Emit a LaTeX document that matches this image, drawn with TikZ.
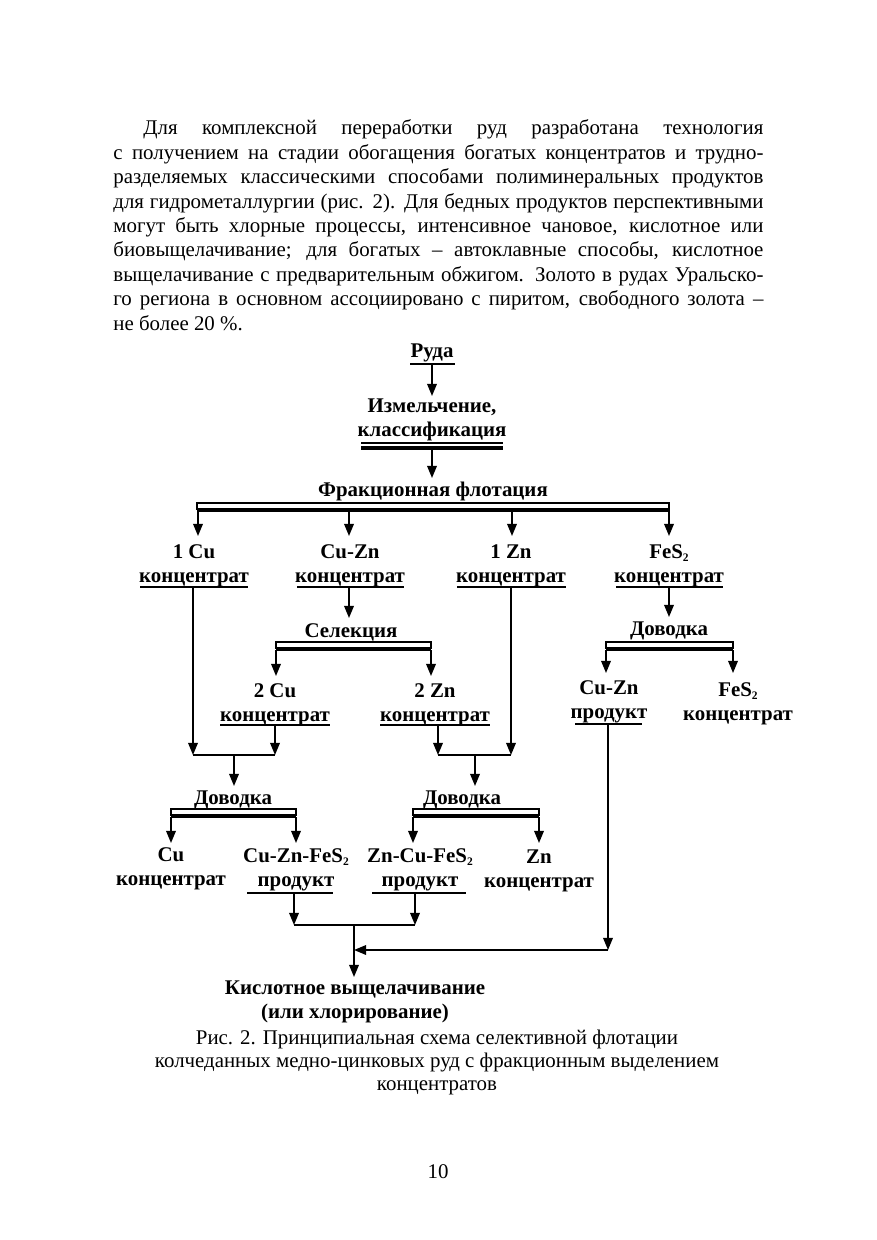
\documentclass[tikz,border=0pt]{standalone}
\usepackage{fontspec}
\setmainfont{Liberation Serif}
\usetikzlibrary{arrows.meta}
\newcommand{\sbt}{\raisebox{-1.6pt}{\fontsize{5.5}{6}\selectfont 2}}
\begin{document}
\begin{tikzpicture}[x=0.47888pt, y=-0.47888pt,
  body/.style={font=\fontsize{10}{11.5}\selectfont, inner sep=0pt, anchor=base west},
  lbl/.style={font=\fontsize{10}{11.5}\selectfont\bfseries, align=center, inner sep=0pt, yshift=-1.2pt},
  captxt/.style={font=\fontsize{10}{11}\selectfont, align=center, inner sep=0pt},
  arr/.style={-{Triangle[length=5.8pt,width=4.6pt]}, line width=0.75pt},
  ln/.style={line width=0.75pt},
  ul/.style={line width=1.1pt},
  thinl/.style={line width=0.55pt},
  thickl/.style={line width=1.6pt}
]
\useasboundingbox (0,0) rectangle (876,1240);

% ---------- paragraph ----------
\newcommand{\fl}{\makebox[311.3pt][s]}
\node[body] (p1) at (143,135.0) {\makebox[296.9pt][s]{Для комплексной переработки руд разработана технология}};
\node[body] (p2) at (113,159.4) {\fl{с~получением на стадии обогащения богатых концентратов и трудно-}};
\node[body] (p3) at (113,183.8) {\fl{разделяемых классическими способами полиминеральных продуктов}};
\node[body] (p4) at (113,208.2) {\fl{для гидрометаллургии (рис. 2). Для бедных продуктов перспективными}};
\node[body] (p5) at (113,232.6) {\fl{могут быть хлорные процессы, интенсивное чановое, кислотное или}};
\node[body] (p6) at (113,257.0) {\fl{биовыщелачивание; для богатых – автоклавные способы, кислотное}};
\node[body] (p7) at (113,281.4) {\fl{выщелачивание с предварительным обжигом. Золото в рудах Уральско-}};
\node[body] (p8) at (113,305.8) {\fl{го региона в основном ассоциировано с пиритом, свободного золота –}};
\node[body] (p9) at (113,330.2) {не более 20 \%.};

% ---------- labels ----------
\node[lbl] (ruda) at (432,350) {Руда};
\node[lbl] (izm) at (432,417) {Измельчение,\\классификация};
\node[lbl] (frak) at (433,489) {Фракционная флотация};
\node[lbl] (cu1) at (194,563) {1 Cu\\концентрат};
\node[lbl] (cuzn) at (350,563) {Cu-Zn\\концентрат};
\node[lbl] (zn1) at (511,563) {1 Zn\\концентрат};
\node[lbl] (fes) at (669,563) {FeS\sbt\\концентрат};
\node[lbl] (sel) at (351,630) {Селекция};
\node[lbl] (cu2) at (275,702) {2 Cu\\концентрат};
\node[lbl] (zn2) at (435,702) {2 Zn\\концентрат};
\node[lbl] (dovR) at (669,628) {Доводка};
\node[lbl] (cuznp) at (609,699) {Cu-Zn\\продукт};
\node[lbl] (fes2) at (738,701) {FeS\sbt\\концентрат};
\node[lbl] (dovL) at (233,797) {Доводка};
\node[lbl] (dovM) at (462,797) {Доводка};
\node[lbl] (cuc) at (171,866) {Cu\\концентрат};
\node[lbl] (cuznfe) at (296,867) {Cu-Zn-FeS\sbt\\продукт};
\node[lbl] (zncufe) at (420,867) {Zn-Cu-FeS\sbt\\продукт};
\node[lbl] (znc) at (539,868) {Zn\\концентрат};
\node[lbl] (kisl) at (355,999) {Кислотное выщелачивание\\(или хлорирование)};

\node[captxt] (caption) at (437,1062) {Рис. 2. Принципиальная схема селективной флотации\\колчеданных медно-цинковых руд с фракционным выделением\\концентратов};
\node[body, anchor=base] (page) at (438,1178) {10};

% ---------- underlines ----------
\draw[ul] (410,364) -- (455,364);
\draw[thinl] (361,443) -- (503,443);
\draw[thickl] (361,448) -- (503,448);
\draw[ul] (140,587) -- (248,587);
\draw[ul] (297,587) -- (404,587);
\draw[ul] (457,587) -- (566,587);
\draw[ul] (616,587) -- (723,587);
\draw[ul] (220,725) -- (330,725);
\draw[ul] (380,725) -- (490,725);
\draw[ul] (575,724) -- (642,724);
\draw[ul] (247,893) -- (333,893);
\draw[ul] (372,893) -- (466,893);

% ---------- operation bars ----------
\newcommand{\opbar}[3]{%
  \draw[thinl] (#1,#3+7) -- (#1,#3) -- (#2,#3) -- (#2,#3+7);
  \draw[thickl] (#1,#3+7) -- (#2,#3+7);}
\opbar{197}{669}{503}
\opbar{276}{431}{642}
\opbar{606}{733}{642}
\opbar{171}{296}{809}
\opbar{413}{539}{809}

% ---------- named points ----------
\coordinate (a1) at (432,364);   \coordinate (a1e) at (432,396);
\coordinate (a2) at (432,449);   \coordinate (a2e) at (432,478);
\foreach \x/\n in {198/f1,349/f2,512/f3,669/f4}{
  \coordinate (\n) at (\x,510); \coordinate (\n e) at (\x,536);}
\coordinate (c1) at (349,587);   \coordinate (c1e) at (349,618);
\coordinate (s1) at (276,650);   \coordinate (s1e) at (276,676);
\coordinate (s2) at (431,650);   \coordinate (s2e) at (431,676);
\coordinate (d1) at (669,587);   \coordinate (d1e) at (669,617);
\coordinate (r1) at (606,650);   \coordinate (r1e) at (606,673);
\coordinate (r2) at (733,650);   \coordinate (r2e) at (733,673);
\coordinate (cu1d) at (193,587); \coordinate (cu1j) at (193,755);
\coordinate (cu2d) at (275,725); \coordinate (cu2j) at (275,755);
\coordinate (zn2d) at (438,725); \coordinate (zn2j) at (438,755);
\coordinate (zn1d) at (511,587); \coordinate (zn1j) at (511,755);
\coordinate (jL) at (234,755);   \coordinate (jLe) at (234,786);
\coordinate (jM) at (475,755);   \coordinate (jMe) at (475,786);
\coordinate (l1) at (171,817);   \coordinate (l1e) at (171,843);
\coordinate (l2) at (296,817);   \coordinate (l2e) at (296,843);
\coordinate (m1) at (413,817);   \coordinate (m1e) at (413,843);
\coordinate (m2) at (539,817);   \coordinate (m2e) at (539,843);
\coordinate (p1d) at (294,893);  \coordinate (p1j) at (294,925);
\coordinate (p2d) at (415,893);  \coordinate (p2j) at (415,925);
\coordinate (jB) at (354,925);   \coordinate (jBe) at (354,977);
\coordinate (q1) at (608,724);   \coordinate (q1j) at (608,950);
\coordinate (qB) at (354,950);

% ---------- connectors ----------
\draw[arr] (a1) -- (a1e);
\draw[arr] (a2) -- (a2e);
\foreach \n in {f1,f2,f3,f4} \draw[arr] (\n) -- (\n e);
\draw[arr] (c1) -- (c1e);
\draw[arr] (s1) -- (s1e);
\draw[arr] (s2) -- (s2e);
\draw[arr] (d1) -- (d1e);
\draw[arr] (r1) -- (r1e);
\draw[arr] (r2) -- (r2e);
\draw[arr] (cu1d) -- (cu1j);
\draw[arr] (cu2d) -- (cu2j);
\draw[ln] (cu1j) -- (cu2j);
\draw[arr] (zn2d) -- (zn2j);
\draw[arr] (zn1d) -- (zn1j);
\draw[ln] (zn2j) -- (zn1j);
\draw[arr] (jL) -- (jLe);
\draw[arr] (jM) -- (jMe);
\draw[arr] (l1) -- (l1e);
\draw[arr] (l2) -- (l2e);
\draw[arr] (m1) -- (m1e);
\draw[arr] (m2) -- (m2e);
\draw[arr] (p1d) -- (p1j);
\draw[arr] (p2d) -- (p2j);
\draw[ln] (p1j) -- (p2j);
\draw[arr] (jB) -- (jBe);
\draw[arr] (q1) -- (q1j);
\draw[arr] (q1j) -- (qB);
\end{tikzpicture}
\end{document}
